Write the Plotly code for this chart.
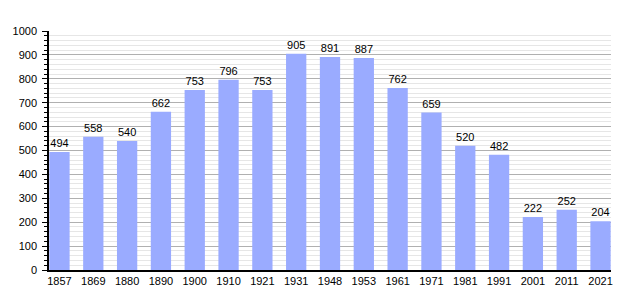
import plotly.graph_objects as go

years = ["1857", "1869", "1880", "1890", "1900", "1910", "1921", "1931", "1948",
         "1953", "1961", "1971", "1981", "1991", "2001", "2011", "2021"]
population = [494, 558, 540, 662, 753, 796, 753, 905, 891, 887, 762, 659, 520,
              482, 222, 252, 204]
y_ticks = list(range(0, 1001, 100))

fig = go.Figure(go.Bar(
    x=years, y=population,
    marker=dict(color="#9aabff", line=dict(width=0)),
    width=0.6,
    text=[str(v) for v in population],
    textposition="outside",
    textfont=dict(size=11, color="black", family="Liberation Sans, Arial, sans-serif"),
    cliponaxis=False,
))

fig.update_layout(
    width=640, height=300,
    margin=dict(l=49, r=29, t=31, b=30),
    paper_bgcolor="white", plot_bgcolor="white",
    font=dict(family="Liberation Sans, Arial, sans-serif", size=11, color="black"),
    showlegend=False,
    xaxis=dict(
        type="category",
        range=[-0.31, 16.31],
        showline=True, linecolor="black", linewidth=1.5,
        ticks="", showgrid=False,
        tickfont=dict(size=11),
    ),
    yaxis=dict(
        range=[0, 1000],
        tickvals=y_ticks,
        showline=True, linecolor="black", linewidth=1.5,
        ticks="outside", ticklen=5, tickcolor="black", tickwidth=1,
        ticklabelstandoff=3,
        showgrid=True, gridcolor="#b0b0b0", gridwidth=1,
        zeroline=False,
        tickfont=dict(size=11),
        minor=dict(dtick=20, showgrid=True, gridcolor="#e6e6e6", gridwidth=1,
                   ticks="outside", ticklen=3, tickcolor="black"),
    ),
)

fig.write_html("out.html")
